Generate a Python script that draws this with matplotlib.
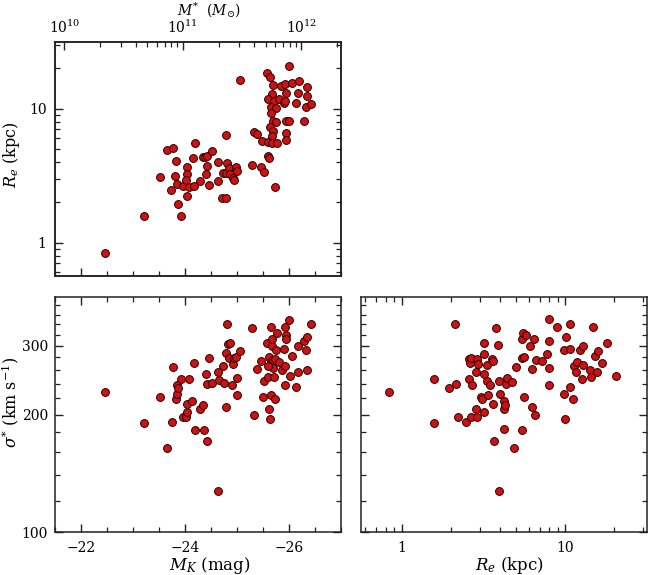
import matplotlib
matplotlib.use('Agg')
import matplotlib.pyplot as plt
import numpy as np
from matplotlib.ticker import MultipleLocator, FixedLocator, NullFormatter, FixedFormatter, LogLocator

plt.rcParams['font.family'] = ['DejaVu Serif']
plt.rcParams['mathtext.fontset'] = 'dejavuserif'

# ---- Panel 1: R_e vs M_K ----
mk_a = [-22.46, -23.21, -23.51, -23.65, -23.77, -23.83, -23.81, -23.74, -23.84, -23.86,
        -23.93, -23.96, -24.03, -24.04, -24.01, -24.07, -24.04, -24.20, -24.15, -24.17,
        -24.28, -24.34, -24.38, -24.42, -24.43, -24.40, -24.46, -24.52, -24.64, -24.64,
        -24.79, -24.81, -24.73, -24.78, -24.84, -24.87, -24.93, -24.94, -24.98, -25.00,
        -24.72, -24.78, -25.06, -26.00, -25.58, -25.63, -25.70, -25.85, -25.92, -26.05,
        -26.19, -26.35, -25.67, -25.94, -26.17, -26.34, -25.59, -25.72, -25.81, -25.91,
        -25.93, -26.14, -26.33, -26.42, -25.65, -25.75, -25.65, -25.69, -25.75, -25.94,
        -26.00, -26.29, -25.64, -25.69, -25.33, -25.39, -25.67, -25.94, -25.49, -25.59,
        -25.67, -25.76, -25.94, -25.60, -25.62, -25.29, -25.46, -25.51, -25.73]
re_a = [0.83, 1.59, 3.08, 4.90, 5.05, 4.06, 3.15, 2.48, 2.75, 1.95,
        1.59, 2.66, 3.68, 3.25, 2.92, 2.59, 2.24, 5.53, 4.30, 2.66,
        2.87, 4.37, 4.37, 4.42, 3.73, 3.26, 2.69, 4.82, 3.99, 2.88,
        6.34, 3.94, 3.32, 3.29, 3.58, 3.25, 3.02, 2.93, 3.68, 3.44,
        2.16, 2.14, 16.3, 21.0, 18.6, 17.2, 14.9, 14.8, 15.2, 15.6,
        16.0, 14.4, 12.9, 13.1, 13.1, 12.5, 11.8, 11.4, 11.9, 11.0,
        11.5, 11.0, 10.3, 10.9, 10.2, 10.1, 9.20, 8.06, 7.92, 8.15,
        8.15, 8.10, 7.31, 6.79, 6.70, 6.45, 6.23, 6.59, 5.72, 5.65,
        5.55, 5.55, 5.85, 4.42, 4.27, 3.81, 3.64, 3.34, 2.59]

# ---- Panel 2: sigma vs M_K ----
mk_b = [-22.47, -23.21, -23.51, -23.65, -23.75, -23.77, -23.82, -23.84, -23.85, -23.87,
        -23.93, -23.96, -24.01, -24.03, -24.04, -24.07, -24.14, -24.17, -24.20, -24.28,
        -24.34, -24.37, -24.40, -24.43, -24.42, -24.46, -24.52, -24.63, -24.64, -24.65,
        -24.74, -24.75, -24.78, -24.79, -24.80, -24.82, -24.84, -24.87, -24.90, -24.93,
        -24.95, -24.98, -25.00, -25.00, -25.05, -25.29, -25.33, -25.39, -25.46, -25.50,
        -25.51, -25.58, -25.59, -25.62, -25.61, -25.64, -25.65, -25.65, -25.65, -25.67,
        -25.68, -25.69, -25.70, -25.71, -25.73, -25.74, -25.75, -25.76, -25.81, -25.86,
        -25.91, -25.92, -25.94, -25.94, -25.92, -25.93, -26.00, -26.01, -26.06, -26.14,
        -26.17, -26.18, -26.29, -26.34, -26.33, -26.35, -26.43, -25.60]
sig_b = [228.5, 190.0, 222.3, 164.6, 191.6, 263.9, 219.3, 225.8, 238.5, 233.9,
         245.9, 196.9, 196.9, 202.4, 212.9, 246.2, 215.9, 270.8, 182.1, 206.8,
         211.4, 183.1, 254.2, 170.8, 238.8, 279.3, 241.2, 127.2, 257.2, 244.5,
         266.8, 240.9, 286.4, 209.6, 341.5, 302.0, 278.2, 304.5, 237.3, 269.2,
         278.2, 280.1, 247.7, 223.8, 290.1, 333.0, 199.7, 261.4, 274.0, 221.6,
         244.1, 303.8, 248.9, 206.9, 281.0, 195.1, 334.9, 271.8, 224.9, 299.1,
         312.1, 262.3, 276.1, 248.9, 219.0, 277.2, 291.5, 323.0, 272.9, 260.6,
         293.6, 335.4, 319.0, 312.1, 266.8, 238.1, 348.9, 250.4, 282.2, 234.5,
         299.6, 256.6, 308.5, 316.0, 292.1, 259.9, 341.5, 265.7]

# ---- Panel 3: sigma vs R_e ----
re_c = [0.836, 1.58, 1.59, 1.94, 2.13, 2.15, 2.22, 2.47, 2.57, 2.57,
        2.64, 2.65, 2.70, 2.66, 2.84, 2.86, 2.88, 2.90, 2.92, 3.06,
        3.12, 3.21, 3.20, 3.21, 3.20, 3.31, 3.31, 3.38, 3.48, 3.64,
        3.60, 3.63, 3.68, 3.77, 3.89, 3.94, 4.03, 4.21, 4.24, 4.25,
        4.31, 4.38, 4.42, 4.74, 4.85, 4.99, 3.96, 5.45, 5.51, 5.47,
        5.45, 5.63, 5.76, 5.60, 6.15, 6.27, 6.32, 6.49, 6.60, 6.64,
        7.19, 7.74, 7.96, 7.98, 7.94, 8.00, 8.99, 9.85, 9.90, 10.1,
        10.0, 10.7, 10.8, 10.8, 11.2, 11.3, 11.6, 11.8, 12.3, 12.8,
        12.7, 12.9, 14.2, 14.5, 14.8, 15.2, 15.6, 16.0, 16.9, 18.1, 20.5]
sig_c = [228.5, 246.6, 190.0, 233.9, 341.5, 239.9, 196.9, 191.6, 277.6, 246.6,
         271.2, 196.9, 238.1, 278.2, 206.8, 257.2, 277.6, 196.9, 269.3, 222.0,
         219.3, 305.3, 286.3, 254.0, 202.6, 267.6, 244.1, 223.8, 237.3, 212.9,
         277.6, 274.0, 170.8, 333.6, 300.9, 244.1, 225.5, 216.2, 206.8, 183.4,
         211.1, 238.7, 248.0, 241.6, 164.6, 263.9, 127.4, 311.5, 323.4, 278.5,
         183.1, 221.6, 318.6, 279.7, 299.3, 209.6, 261.4, 311.7, 199.4, 275.7,
         273.3, 285.1, 308.5, 349.9, 262.2, 237.8, 334.9, 225.5, 291.8, 316.0,
         194.8, 341.3, 293.2, 234.5, 219.0, 265.7, 257.2, 272.9, 292.1, 299.6,
         245.9, 267.3, 260.6, 249.5, 335.6, 282.0, 256.4, 290.1, 271.2, 303.8, 250.2]

# Top axis: stellar mass ticks (log10 M*), and conversion to M_K
mass_major = [10, 11, 12]
mass_labels = ['$10^{10}$', '$10^{11}$', '$10^{12}$']
MK_AT_1E10 = -21.68
MAG_PER_DEX = 2.28

def logm_to_mk(logm):
    return MK_AT_1E10 - MAG_PER_DEX * (np.asarray(logm) - 10.0)

W, H = 651, 575
fig = plt.figure(figsize=(W / 100, H / 100), dpi=100)

def box(l, t, r, b):
    return [l / W, 1 - b / H, (r - l) / W, (b - t) / H]

ax1 = fig.add_axes(box(55, 41.7, 341, 276))
ax2 = fig.add_axes(box(55, 296.7, 341, 532.3))
ax3 = fig.add_axes(box(360.7, 296.7, 646.7, 532.3))

mkw = dict(s=32, c='#cc1212', edgecolors='#2a0000', linewidths=0.7, zorder=3)
FS = 10

def style(ax):
    for sp in ax.spines.values():
        sp.set_linewidth(1.1)
        sp.set_color('#222222')
    ax.tick_params(which='major', direction='in', length=6, width=1.0, labelsize=FS, pad=6, color='#222222')
    ax.tick_params(which='minor', direction='in', length=3.5, width=0.9, color='#222222')

re_lim = (10 ** -0.25, 10 ** 1.5)
mk_lim = (-21.5, -27.0)
sig_lim = (100, 400)
sig_major = [100, 200, 300]
sig_minor = [120, 140, 160, 180, 220, 240, 260, 280, 320, 340, 360, 380]

# Panel 1
ax1.scatter(mk_a, re_a, **mkw)
ax1.set_xlim(*mk_lim)
ax1.set_yscale('log')
ax1.set_ylim(*re_lim)
ax1.xaxis.set_major_locator(MultipleLocator(2))
ax1.xaxis.set_minor_locator(MultipleLocator(0.5))
ax1.yaxis.set_major_locator(FixedLocator([1, 10]))
ax1.yaxis.set_major_formatter(FixedFormatter(['1', '10']))
ax1.yaxis.set_minor_locator(LogLocator(base=10, subs=np.arange(2, 10)))
ax1.yaxis.set_minor_formatter(NullFormatter())
style(ax1)
ax1.tick_params(which='both', top=False, right=True, labelbottom=False)
fig.text(12 / W, 1 - 155 / H, '$R_e$ (kpc)', fontsize=11.5, rotation=90, ha='center', va='center')

axt = ax1.twiny()
axt.set_xlim(*mk_lim)
axt.xaxis.set_major_locator(FixedLocator(logm_to_mk(mass_major)))
axt.xaxis.set_major_formatter(FixedFormatter(mass_labels))
minor_logm = [d + np.log10(k) for d in (10, 11, 12) for k in range(2, 10)]
axt.xaxis.set_minor_locator(FixedLocator(logm_to_mk(minor_logm)))
style(axt)
axt.tick_params(which='both', top=True, bottom=False, labeltop=True, labelbottom=False, pad=4)
fig.text(209 / W, 1 - 10 / H, r'$M^{*}$  $(M_{\odot})$', fontsize=10, ha='center', va='center')

# Panel 2
ax2.scatter(mk_b, sig_b, **mkw)
ax2.set_xlim(*mk_lim)
ax2.set_yscale('log')
ax2.set_ylim(*sig_lim)
ax2.xaxis.set_major_locator(MultipleLocator(2))
ax2.xaxis.set_minor_locator(MultipleLocator(0.5))
ax2.xaxis.set_major_formatter(plt.FuncFormatter(lambda v, p: '\u2212%d' % abs(round(v))))
ax2.yaxis.set_major_locator(FixedLocator(sig_major))
ax2.yaxis.set_major_formatter(FixedFormatter([str(v) for v in sig_major]))
ax2.yaxis.set_minor_locator(FixedLocator(sig_minor))
ax2.yaxis.set_minor_formatter(NullFormatter())
style(ax2)
ax2.tick_params(which='both', top=True, right=True)
ax2.tick_params(axis='y', which='major', pad=5)
fig.text(10 / W, 1 - 402 / H, '$\\sigma^{*}$ (km s$^{-1}$)', fontsize=11.5, rotation=90, ha='center', va='center')
fig.text(210 / W, 1 - 565 / H, '$M_K$ (mag)', fontsize=12, ha='center', va='center')

# Panel 3
ax3.scatter(re_c, sig_c, **mkw)
ax3.set_xscale('log')
ax3.set_xlim(*re_lim)
ax3.set_yscale('log')
ax3.set_ylim(*sig_lim)
ax3.xaxis.set_major_locator(FixedLocator([1, 10]))
ax3.xaxis.set_major_formatter(FixedFormatter(['1', '10']))
ax3.xaxis.set_minor_locator(LogLocator(base=10, subs=np.arange(2, 10)))
ax3.xaxis.set_minor_formatter(NullFormatter())
ax3.yaxis.set_major_locator(FixedLocator(sig_major))
ax3.yaxis.set_minor_locator(FixedLocator(sig_minor))
ax3.yaxis.set_minor_formatter(NullFormatter())
style(ax3)
ax3.tick_params(which='both', top=True, right=True, labelleft=False)
fig.text(510 / W, 1 - 565 / H, '$R_e$ (kpc)', fontsize=12, ha='center', va='center')

fig.savefig('out.png', dpi=100)
